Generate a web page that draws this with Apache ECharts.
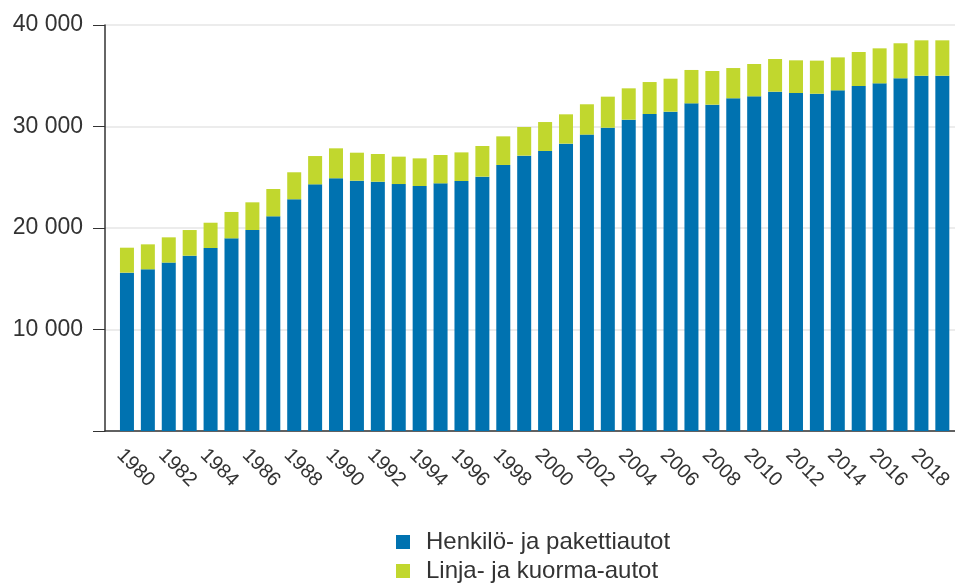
<!DOCTYPE html>
<html>
<head>
<meta charset="utf-8">
<script src="https://cdn.jsdelivr.net/npm/echarts@6/dist/echarts.min.js"></script>
<style>html,body{margin:0;padding:0;background:#fff}#c{width:955px;height:584px}</style>
</head>
<body>
<div id="c"></div>
<script>
var years = ['1980','1981','1982','1983','1984','1985','1986','1987','1988','1989','1990','1991','1992','1993','1994','1995','1996','1997','1998','1999','2000','2001','2002','2003','2004','2005','2006','2007','2008','2009','2010','2011','2012','2013','2014','2015','2016','2017','2018','2019'];
var henkilo = [15600,15930,16590,17270,18030,18980,19800,21150,22830,24300,24900,24660,24560,24330,24140,24400,24630,25060,26210,27130,27590,28310,29200,29880,30670,31230,31460,32280,32150,32780,32970,33430,33300,33230,33560,33990,34250,34750,35000,35000];
var total = [18060,18390,19080,19800,20520,21580,22530,23840,25490,27090,27850,27420,27290,27030,26860,27190,27450,28080,29030,29950,30440,31200,32190,32940,33760,34380,34710,35570,35470,35760,36160,36650,36520,36490,36810,37340,37700,38200,38490,38490];
var linja = total.map(function(t,i){return t - henkilo[i];});
var yTickValues = [0,10000,20000,30000,40000];

var chart = echarts.init(document.getElementById('c'));
var font = 'Liberation Sans, Arial, sans-serif';
var fmt = function(v){return v===0?'':String(v).replace(/\B(?=(\d{3})+(?!\d))/g,' ');};
chart.setOption({
  animation:false,
  grid:[
    {left:105,right:0,top:25,bottom:153},
    {left:116.5,right:1,top:25,bottom:153}
  ],
  legend:{
    orient:'vertical', left:396, top:530, padding:0,
    itemWidth:14, itemHeight:14, itemGap:5,
    icon:'rect',
    textStyle:{fontFamily:font,fontSize:24,color:'#333',padding:[0,0,0,11]},
    data:['Henkilö- ja pakettiautot','Linja- ja kuorma-autot']
  },
  xAxis:[
    {gridIndex:0,type:'value',min:0,max:1,
     axisLine:{show:true,onZero:false,lineStyle:{color:'#333',width:1.5}},
     axisTick:{show:false},axisLabel:{show:false},splitLine:{show:false}},
    {gridIndex:1,type:'category',data:years,
     axisLine:{show:false},axisTick:{show:false},splitLine:{show:false},
     axisLabel:{interval:1,rotate:-45,margin:14,verticalAlign:'top',fontFamily:font,fontSize:20,color:'#333'}}
  ],
  yAxis:[
    {gridIndex:0,type:'value',min:yTickValues[0],max:yTickValues[4],interval:10000,
     axisLine:{show:true,lineStyle:{color:'#333',width:1.5}},
     axisTick:{show:true,length:12,lineStyle:{color:'#333'}},
     splitLine:{show:true,lineStyle:{color:'#e6e6e6',width:1.5}},
     axisLabel:{margin:22,fontFamily:font,fontSize:23,color:'#333',formatter:fmt}},
    {gridIndex:1,type:'value',min:yTickValues[0],max:yTickValues[4],interval:10000,
     axisLine:{show:false},axisTick:{show:false},splitLine:{show:false},axisLabel:{show:false}}
  ],
  series:[
    {name:'Henkilö- ja pakettiautot',type:'bar',stack:'t',barWidth:14,xAxisIndex:1,yAxisIndex:1,
     itemStyle:{color:'#0072b0'},data:henkilo},
    {name:'Linja- ja kuorma-autot',type:'bar',stack:'t',barWidth:14,xAxisIndex:1,yAxisIndex:1,
     itemStyle:{color:'#c1d72e'},data:linja}
  ]
});
</script>
</body>
</html>
